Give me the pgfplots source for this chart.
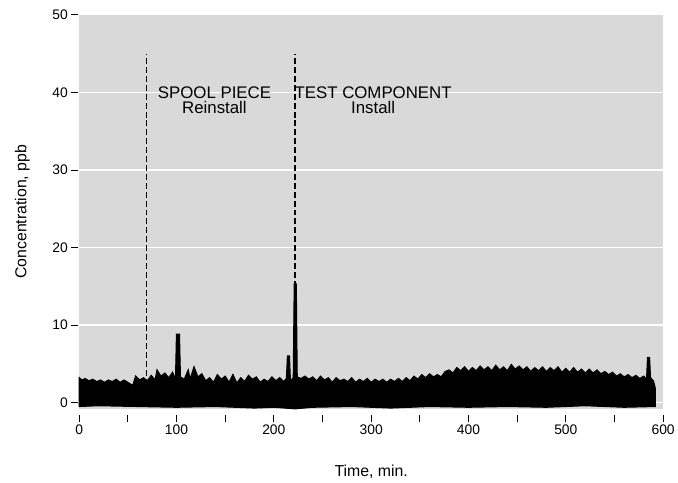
\documentclass[border=0pt]{standalone}
\usepackage{pgfplots}
\pgfplotsset{compat=1.18}
\usepackage{fontspec}
\setmainfont{Liberation Sans}
\begin{document}
\begin{tikzpicture}
\begin{axis}[
  name=main,
  width=590pt, height=398pt, scale only axis,
  xmin=0, xmax=600, ymin=-0.8, ymax=50,
  axis background/.style={fill=black!15},
  axis line style={draw=none},
  xtick={0,100,...,600}, minor xtick={50,150,...,550},
  ytick={0,10,...,50},
  ymajorgrids, grid style={white, line width=1.2pt},
  tick align=outside, tick pos=left,
  major tick length=7pt, minor tick length=7pt,
  every tick/.style={black, line width=0.8pt},
  xtick style={yshift=-6pt},
  xticklabel style={yshift=-6pt},
  ytick style={xshift=-1.5pt},
  yticklabel style={xshift=-1pt},
  /pgf/number format/assume math mode=true,
  ticklabel style={font=\fontsize{14}{16}\selectfont},
  label style={font=\fontsize{16}{18}\selectfont},
  xlabel={Time, min.}, ylabel={Concentration, ppb},
  xlabel style={yshift=-24pt}, ylabel style={yshift=16pt},
  clip=false,
]
\addplot[fill=black, draw=black, line width=1.2pt] coordinates {
(0,-0.3)(0,3.2)(3,2.9)(6,3.1)(10,2.8)(14,3.0)(18,2.7)(22,2.9)(26,2.6)(30,2.9)(34,2.7)(38,3.0)(42,2.6)(46,2.9)(50,2.6)(55,2.2)(58,3.4)(62,2.9)(66,3.2)(70,2.8)(74,3.5)(78,2.9)(80,4.2)(84,3.4)(88,3.8)(92,3.2)(96,3.9)(99,3.0)(100,8.8)(103,8.8)(104,3.3)(108,3.0)(112,4.2)(114,3.0)(118,4.6)(122,3.3)(126,3.7)(130,2.8)(134,3.2)(138,2.6)(142,3.6)(146,3.0)(150,3.4)(154,2.6)(158,3.6)(162,2.5)(166,3.2)(170,2.7)(174,3.5)(178,3.0)(182,3.3)(186,2.6)(190,3.0)(194,2.7)(198,3.3)(202,2.8)(206,3.2)(210,2.7)(213,3.1)(214,6.0)(216,6.0)(217,2.8)(220,3.2)(221,15.3)(223,15.3)(224,3.3)(228,3.1)(232,3.4)(236,3.0)(240,3.3)(244,2.8)(248,3.4)(252,2.9)(256,3.2)(260,2.6)(264,3.2)(268,2.8)(272,3.0)(276,2.7)(280,3.2)(284,2.6)(288,3.0)(292,2.7)(296,3.1)(300,2.6)(304,3.0)(308,2.7)(312,3.0)(316,2.6)(320,3.0)(324,2.7)(328,3.1)(332,2.7)(336,3.2)(340,2.8)(344,3.4)(348,3.0)(352,3.6)(356,3.2)(360,3.7)(364,3.3)(368,3.6)(372,3.3)(376,4.0)(380,4.2)(384,3.8)(388,4.5)(392,4.1)(396,4.6)(400,4.0)(404,4.5)(408,4.1)(412,4.7)(416,4.2)(420,4.6)(424,4.1)(428,4.8)(432,4.2)(436,4.6)(440,4.1)(444,4.9)(448,4.3)(452,4.7)(456,4.2)(460,4.6)(464,4.0)(468,4.5)(472,4.1)(476,4.6)(480,4.0)(484,4.5)(488,4.1)(492,4.6)(496,3.9)(500,4.4)(504,3.9)(508,4.5)(512,3.9)(516,4.3)(520,3.8)(524,4.3)(528,3.8)(532,4.2)(536,3.7)(540,4.0)(544,3.6)(548,3.9)(552,3.4)(556,3.7)(560,3.3)(564,3.6)(568,3.2)(572,3.5)(576,3.1)(580,3.4)(583,3.0)(584,5.8)(586,5.8)(587,3.2)(590,2.8)(592,1.8)
(592,-0.5)(560,-0.6)(520,-0.4)(480,-0.6)(440,-0.5)(400,-0.6)(360,-0.5)(320,-0.7)(280,-0.5)(240,-0.6)(222,-0.8)(200,-0.6)(180,-0.7)(140,-0.5)(100,-0.6)(60,-0.5)(20,-0.4)(0,-0.5)
} --cycle;
\addplot[black, dash pattern=on 6pt off 3pt, line width=1.6pt] coordinates {(69,0)(69,45)};
\addplot[black, dash pattern=on 6pt off 3pt, line width=1.6pt] coordinates {(222,0)(222,45)};
\node[align=center, font=\fontsize{17}{16}\selectfont] at (axis cs:139,39) {SPOOL PIECE\\Reinstall};
\node[align=center, font=\fontsize{17}{16}\selectfont] at (axis cs:302,39) {TEST COMPONENT\\Install};
\end{axis}
\path (main.north west) ++(-80pt,15pt) coordinate (pad);
\end{tikzpicture}
\end{document}
